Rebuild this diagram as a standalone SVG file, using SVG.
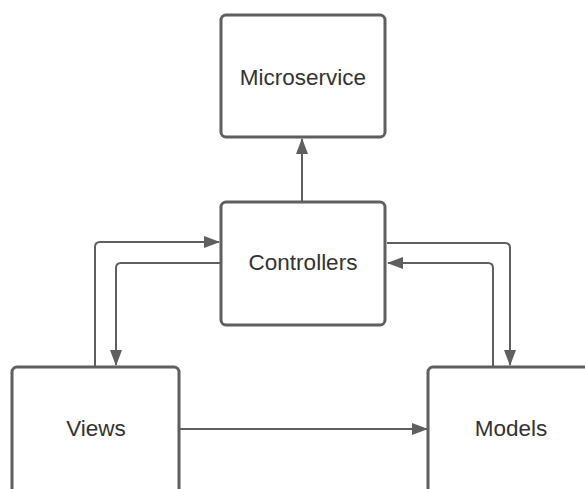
<svg xmlns="http://www.w3.org/2000/svg" width="585" height="489" viewBox="0 0 585 489">
<style>
.box{fill:#ffffff;stroke:#5f5f5f;stroke-width:3}
.lbl{font-family:"Liberation Sans",Arial,sans-serif;font-size:22.5px;fill:#333333;text-anchor:middle;dominant-baseline:central}
.con{fill:none;stroke:#5f5f5f;stroke-width:2;stroke-linejoin:round}
</style>
<defs>
<marker id="ah" markerUnits="userSpaceOnUse" markerWidth="16" markerHeight="12" refX="15" refY="6" orient="auto">
<path d="M0,0 L16,6 L0,12 Z" fill="#5f5f5f"/>
</marker>
</defs>
<rect width="585" height="489" fill="#ffffff"/>
<g id="connectors">
<path class="con" d="M302,201 V139" marker-end="url(#ah)"/>
<path class="con" d="M95,366 V247 Q95,242 100,242 H219" marker-end="url(#ah)"/>
<path class="con" d="M220,263 H121 Q116,263 116,268 V365" marker-end="url(#ah)"/>
<path class="con" d="M387,243 H505 Q510,243 510,248 V365" marker-end="url(#ah)"/>
<path class="con" d="M493,366 V268 Q493,263 488,263 H388" marker-end="url(#ah)"/>
<path class="con" d="M180,429 H427" marker-end="url(#ah)"/>
</g>
<g id="microservice">
<rect class="box" x="221" y="15" width="164" height="122" rx="5"/>
<text class="lbl" x="303" y="77">Microservice</text>
</g>
<g id="controllers">
<rect class="box" x="221" y="202" width="164" height="123" rx="5"/>
<text class="lbl" x="303" y="262">Controllers</text>
</g>
<g id="views">
<rect class="box" x="12" y="367" width="167" height="140" rx="5"/>
<text class="lbl" x="96" y="428">Views</text>
</g>
<g id="models">
<rect class="box" x="428" y="367" width="167" height="140" rx="5"/>
<text class="lbl" x="511" y="428">Models</text>
</g>
</svg>
